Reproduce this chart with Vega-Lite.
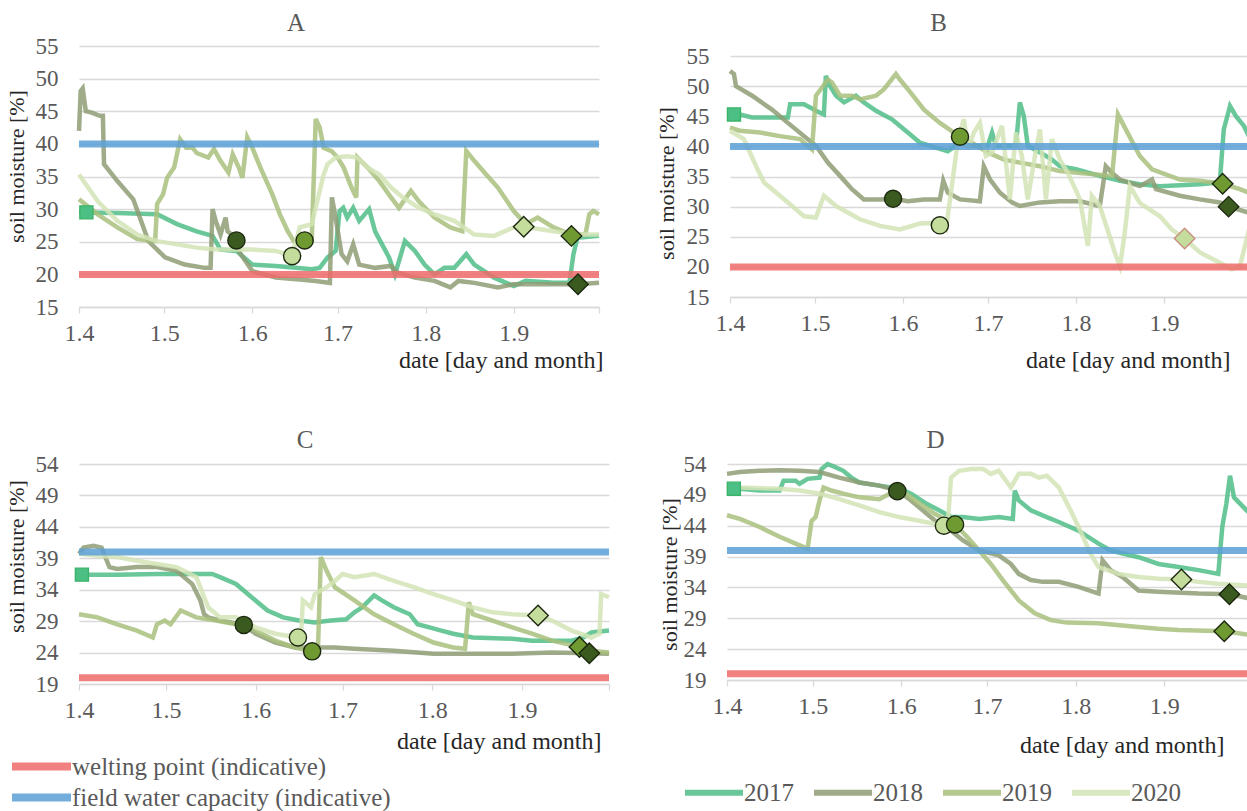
{
"$schema": "https://vega.github.io/schema/vega-lite/v6.json",
"autosize": {"type": "none"},
"padding": {"left": 79, "top": 46, "right": 1168, "bottom": 765},
"background": "white",
"datasets": {
"thresholds": [
{"panel":"A","kind":"welting point (indicative)","value":20},{"panel":"A","kind":"field water capacity (indicative)","value":40},
{"panel":"B","kind":"welting point (indicative)","value":20},{"panel":"B","kind":"field water capacity (indicative)","value":40},
{"panel":"C","kind":"welting point (indicative)","value":20},{"panel":"C","kind":"field water capacity (indicative)","value":40},
{"panel":"D","kind":"welting point (indicative)","value":20},{"panel":"D","kind":"field water capacity (indicative)","value":40}
],
"markers": [
{"panel":"A","year":"2017","kind":"start","day":2.6,"value":29.5},{"panel":"A","year":"2018","kind":"seeding","day":55.4,"value":25.2},{"panel":"A","year":"2020","kind":"seeding","day":75,"value":22.8},{"panel":"A","year":"2019","kind":"seeding","day":79.4,"value":25.2},{"panel":"A","year":"2020","kind":"harvest","day":156.5,"value":27.3},{"panel":"A","year":"2019","kind":"harvest","day":173.3,"value":25.9},{"panel":"A","year":"2018","kind":"harvest","day":175.6,"value":18.5},
{"panel":"B","year":"2017","kind":"start","day":1.4,"value":45.3},{"panel":"B","year":"2018","kind":"seeding","day":57.5,"value":31.3},{"panel":"B","year":"2020","kind":"seeding","day":74,"value":26.9},{"panel":"B","year":"2019","kind":"seeding","day":81.1,"value":41.6},{"panel":"B","year":"2020","kind":"harvest","day":160.3,"value":24.7},{"panel":"B","year":"2019","kind":"harvest","day":173.7,"value":33.8},{"panel":"B","year":"2018","kind":"harvest","day":175.8,"value":30},
{"panel":"C","year":"2017","kind":"start","day":1,"value":36.4},{"panel":"C","year":"2018","kind":"seeding","day":56.9,"value":28.4},{"panel":"C","year":"2020","kind":"seeding","day":75.6,"value":26.4},{"panel":"C","year":"2019","kind":"seeding","day":80.5,"value":24.2},{"panel":"C","year":"2020","kind":"harvest","day":158.5,"value":29.9},{"panel":"C","year":"2019","kind":"harvest","day":172.8,"value":24.9},{"panel":"C","year":"2018","kind":"harvest","day":176.2,"value":23.9},
{"panel":"D","year":"2017","kind":"start","day":2.4,"value":50},{"panel":"D","year":"2018","kind":"seeding","day":59.6,"value":49.6},{"panel":"D","year":"2020","kind":"seeding","day":75.9,"value":44},{"panel":"D","year":"2019","kind":"seeding","day":79.8,"value":44.2},{"panel":"D","year":"2020","kind":"harvest","day":159,"value":35.3},{"panel":"D","year":"2019","kind":"harvest","day":174,"value":26.9},{"panel":"D","year":"2018","kind":"harvest","day":175.8,"value":32.9}
],
"lines": [
{"panel":"A","year":"2017","day":0,"value":29.5},{"panel":"A","year":"2017","day":13.5,"value":29.4},{"panel":"A","year":"2017","day":27.5,"value":29.2},{"panel":"A","year":"2017","day":34.5,"value":27.7},{"panel":"A","year":"2017","day":41.4,"value":26.6},{"panel":"A","year":"2017","day":47,"value":25.9},{"panel":"A","year":"2017","day":49.8,"value":23.8},{"panel":"A","year":"2017","day":55.4,"value":23.6},{"panel":"A","year":"2017","day":61,"value":21.5},{"panel":"A","year":"2017","day":69.3,"value":21.3},{"panel":"A","year":"2017","day":76.3,"value":21},{"panel":"A","year":"2017","day":81.9,"value":20.8},{"panel":"A","year":"2017","day":84.7,"value":21},{"panel":"A","year":"2017","day":87.5,"value":22.6},{"panel":"A","year":"2017","day":90.3,"value":23.6},{"panel":"A","year":"2017","day":91.7,"value":29.7},{"panel":"A","year":"2017","day":93,"value":30.2},{"panel":"A","year":"2017","day":94.4,"value":28.7},{"panel":"A","year":"2017","day":96.5,"value":30.2},{"panel":"A","year":"2017","day":98.6,"value":28.2},{"panel":"A","year":"2017","day":102.1,"value":30},{"panel":"A","year":"2017","day":104.2,"value":26.6},{"panel":"A","year":"2017","day":109.1,"value":22.6},{"panel":"A","year":"2017","day":111.2,"value":20},{"panel":"A","year":"2017","day":114.7,"value":25.1},{"panel":"A","year":"2017","day":118.2,"value":23.6},{"panel":"A","year":"2017","day":121.6,"value":21.5},{"panel":"A","year":"2017","day":125.1,"value":20},{"panel":"A","year":"2017","day":128.6,"value":21},{"panel":"A","year":"2017","day":132.1,"value":21},{"panel":"A","year":"2017","day":136.3,"value":23.1},{"panel":"A","year":"2017","day":139.1,"value":21.5},{"panel":"A","year":"2017","day":146.1,"value":19.5},{"panel":"A","year":"2017","day":153,"value":18.2},{"panel":"A","year":"2017","day":157.2,"value":19},{"panel":"A","year":"2017","day":167,"value":18.7},{"panel":"A","year":"2017","day":172.6,"value":18.7},{"panel":"A","year":"2017","day":174,"value":23.1},{"panel":"A","year":"2017","day":175.4,"value":25.6},{"panel":"A","year":"2017","day":183,"value":25.9},
{"panel":"A","year":"2018","day":0,"value":42},{"panel":"A","year":"2018","day":0.6,"value":48.1},{"panel":"A","year":"2018","day":1.3,"value":48.5},{"panel":"A","year":"2018","day":2.4,"value":45},{"panel":"A","year":"2018","day":4.5,"value":44.8},{"panel":"A","year":"2018","day":7.3,"value":44.3},{"panel":"A","year":"2018","day":8.4,"value":44.3},{"panel":"A","year":"2018","day":8.8,"value":36.9},{"panel":"A","year":"2018","day":13.5,"value":34.3},{"panel":"A","year":"2018","day":19.1,"value":31.5},{"panel":"A","year":"2018","day":24.4,"value":25.1},{"panel":"A","year":"2018","day":30.3,"value":22.6},{"panel":"A","year":"2018","day":37.2,"value":21.5},{"panel":"A","year":"2018","day":44.2,"value":21},{"panel":"A","year":"2018","day":46.3,"value":21},{"panel":"A","year":"2018","day":47,"value":30},{"panel":"A","year":"2018","day":48.1,"value":28.2},{"panel":"A","year":"2018","day":49.8,"value":26.1},{"panel":"A","year":"2018","day":51.6,"value":28.7},{"panel":"A","year":"2018","day":52.3,"value":26.6},{"panel":"A","year":"2018","day":53.7,"value":26.1},{"panel":"A","year":"2018","day":56.9,"value":23.1},{"panel":"A","year":"2018","day":61,"value":20.5},{"panel":"A","year":"2018","day":69.3,"value":19.5},{"panel":"A","year":"2018","day":77.7,"value":19.2},{"panel":"A","year":"2018","day":83.3,"value":19},{"panel":"A","year":"2018","day":88.3,"value":18.7},{"panel":"A","year":"2018","day":89,"value":31.8},{"panel":"A","year":"2018","day":90.3,"value":28.7},{"panel":"A","year":"2018","day":92.4,"value":23.1},{"panel":"A","year":"2018","day":94.4,"value":22},{"panel":"A","year":"2018","day":96.5,"value":24.6},{"panel":"A","year":"2018","day":98.6,"value":21.5},{"panel":"A","year":"2018","day":104.2,"value":21},{"panel":"A","year":"2018","day":109.8,"value":21.3},{"panel":"A","year":"2018","day":111.9,"value":20.3},{"panel":"A","year":"2018","day":118.2,"value":19.5},{"panel":"A","year":"2018","day":125.1,"value":19},{"panel":"A","year":"2018","day":130.7,"value":18},{"panel":"A","year":"2018","day":133.5,"value":19},{"panel":"A","year":"2018","day":139.1,"value":18.7},{"panel":"A","year":"2018","day":147.4,"value":18},{"panel":"A","year":"2018","day":153,"value":18.5},{"panel":"A","year":"2018","day":167,"value":18.5},{"panel":"A","year":"2018","day":175.6,"value":18.5},{"panel":"A","year":"2018","day":183,"value":18.7},
{"panel":"A","year":"2019","day":0,"value":31.5},{"panel":"A","year":"2019","day":6.6,"value":29.2},{"panel":"A","year":"2019","day":13.5,"value":27.2},{"panel":"A","year":"2019","day":20.5,"value":25.4},{"panel":"A","year":"2019","day":26.8,"value":25.1},{"panel":"A","year":"2019","day":27.5,"value":30.8},{"panel":"A","year":"2019","day":29.6,"value":32.3},{"panel":"A","year":"2019","day":31,"value":34.8},{"panel":"A","year":"2019","day":33.5,"value":36.4},{"panel":"A","year":"2019","day":35.6,"value":40.7},{"panel":"A","year":"2019","day":37.7,"value":39.4},{"panel":"A","year":"2019","day":40,"value":39.4},{"panel":"A","year":"2019","day":41.4,"value":38.6},{"panel":"A","year":"2019","day":45.5,"value":37.9},{"panel":"A","year":"2019","day":47.5,"value":39.2},{"panel":"A","year":"2019","day":49.8,"value":37.4},{"panel":"A","year":"2019","day":52.6,"value":35.6},{"panel":"A","year":"2019","day":54.1,"value":38.4},{"panel":"A","year":"2019","day":56.2,"value":36.4},{"panel":"A","year":"2019","day":57.5,"value":34.8},{"panel":"A","year":"2019","day":59.2,"value":41},{"panel":"A","year":"2019","day":61,"value":39.4},{"panel":"A","year":"2019","day":63.8,"value":36.4},{"panel":"A","year":"2019","day":68,"value":32.3},{"panel":"A","year":"2019","day":70.7,"value":29.2},{"panel":"A","year":"2019","day":73.5,"value":26.6},{"panel":"A","year":"2019","day":75.6,"value":25.1},{"panel":"A","year":"2019","day":79.4,"value":25.2},{"panel":"A","year":"2019","day":81.9,"value":25.2},{"panel":"A","year":"2019","day":83.3,"value":43.8},{"panel":"A","year":"2019","day":84.7,"value":42.5},{"panel":"A","year":"2019","day":86.1,"value":39.4},{"panel":"A","year":"2019","day":88.9,"value":38.9},{"panel":"A","year":"2019","day":91,"value":37.9},{"panel":"A","year":"2019","day":93.1,"value":36.4},{"panel":"A","year":"2019","day":95.9,"value":33.3},{"panel":"A","year":"2019","day":97.6,"value":31.8},{"panel":"A","year":"2019","day":98,"value":37.9},{"panel":"A","year":"2019","day":101.5,"value":36.4},{"panel":"A","year":"2019","day":105.7,"value":34.3},{"panel":"A","year":"2019","day":109.8,"value":31.8},{"panel":"A","year":"2019","day":112.6,"value":30.2},{"panel":"A","year":"2019","day":116.8,"value":32.8},{"panel":"A","year":"2019","day":119.6,"value":31.2},{"panel":"A","year":"2019","day":125.1,"value":28.7},{"panel":"A","year":"2019","day":130.7,"value":27.2},{"panel":"A","year":"2019","day":134.9,"value":26.6},{"panel":"A","year":"2019","day":136.3,"value":38.9},{"panel":"A","year":"2019","day":139.1,"value":37.4},{"panel":"A","year":"2019","day":143.3,"value":35.3},{"panel":"A","year":"2019","day":147.4,"value":33.3},{"panel":"A","year":"2019","day":153,"value":29.7},{"panel":"A","year":"2019","day":157.2,"value":27.7},{"panel":"A","year":"2019","day":161.4,"value":28.7},{"panel":"A","year":"2019","day":167,"value":27.2},{"panel":"A","year":"2019","day":173.3,"value":26.1},{"panel":"A","year":"2019","day":178.2,"value":26.1},{"panel":"A","year":"2019","day":179.6,"value":29.2},{"panel":"A","year":"2019","day":181,"value":29.7},{"panel":"A","year":"2019","day":183,"value":29.2},
{"panel":"A","year":"2020","day":0,"value":35.3},{"panel":"A","year":"2020","day":6.6,"value":31.2},{"panel":"A","year":"2020","day":13.5,"value":28.2},{"panel":"A","year":"2020","day":20.5,"value":26.1},{"panel":"A","year":"2020","day":27.5,"value":25.1},{"panel":"A","year":"2020","day":34.5,"value":24.6},{"panel":"A","year":"2020","day":41.4,"value":24.1},{"panel":"A","year":"2020","day":48.4,"value":23.8},{"panel":"A","year":"2020","day":55.4,"value":23.8},{"panel":"A","year":"2020","day":61,"value":23.8},{"panel":"A","year":"2020","day":69.3,"value":23.6},{"panel":"A","year":"2020","day":75,"value":22.8},{"panel":"A","year":"2020","day":77.7,"value":27.2},{"panel":"A","year":"2020","day":81.9,"value":27.7},{"panel":"A","year":"2020","day":86.1,"value":35.3},{"panel":"A","year":"2020","day":87.5,"value":36.9},{"panel":"A","year":"2020","day":90.3,"value":37.9},{"panel":"A","year":"2020","day":94.4,"value":38.1},{"panel":"A","year":"2020","day":98,"value":37.9},{"panel":"A","year":"2020","day":101.5,"value":36.4},{"panel":"A","year":"2020","day":105.7,"value":35.3},{"panel":"A","year":"2020","day":109.8,"value":33.3},{"panel":"A","year":"2020","day":114,"value":31.8},{"panel":"A","year":"2020","day":119.6,"value":30.2},{"panel":"A","year":"2020","day":125.1,"value":29.2},{"panel":"A","year":"2020","day":132.1,"value":28.2},{"panel":"A","year":"2020","day":139.1,"value":26.1},{"panel":"A","year":"2020","day":146.1,"value":25.9},{"panel":"A","year":"2020","day":153,"value":27.2},{"panel":"A","year":"2020","day":156.5,"value":27.3},{"panel":"A","year":"2020","day":167,"value":26.6},{"panel":"A","year":"2020","day":176,"value":26.1},{"panel":"A","year":"2020","day":183,"value":26.1},
{"panel":"B","year":"2017","day":0,"value":45.6},{"panel":"B","year":"2017","day":3.5,"value":45.3},{"panel":"B","year":"2017","day":7.8,"value":44.8},{"panel":"B","year":"2017","day":20.4,"value":44.8},{"panel":"B","year":"2017","day":21.2,"value":47},{"panel":"B","year":"2017","day":26.1,"value":47},{"panel":"B","year":"2017","day":31.7,"value":45.6},{"panel":"B","year":"2017","day":33.1,"value":45.3},{"panel":"B","year":"2017","day":33.8,"value":51.7},{"panel":"B","year":"2017","day":35.3,"value":50},{"panel":"B","year":"2017","day":37.4,"value":48.4},{"panel":"B","year":"2017","day":40.2,"value":47.3},{"panel":"B","year":"2017","day":44.4,"value":48.4},{"panel":"B","year":"2017","day":47.2,"value":47.3},{"panel":"B","year":"2017","day":51.5,"value":45.9},{"panel":"B","year":"2017","day":57.1,"value":44.5},{"panel":"B","year":"2017","day":62.7,"value":42.3},{"panel":"B","year":"2017","day":67,"value":40.6},{"panel":"B","year":"2017","day":72.6,"value":39.8},{"panel":"B","year":"2017","day":76.8,"value":39.2},{"panel":"B","year":"2017","day":81.1,"value":40.6},{"panel":"B","year":"2017","day":85.3,"value":40.1},{"panel":"B","year":"2017","day":90.9,"value":40.1},{"panel":"B","year":"2017","day":92.4,"value":42.3},{"panel":"B","year":"2017","day":93.8,"value":40.1},{"panel":"B","year":"2017","day":100.8,"value":40.1},{"panel":"B","year":"2017","day":102.2,"value":47.3},{"panel":"B","year":"2017","day":103.6,"value":45},{"panel":"B","year":"2017","day":105,"value":40.1},{"panel":"B","year":"2017","day":109.3,"value":39},{"panel":"B","year":"2017","day":113.5,"value":37.8},{"panel":"B","year":"2017","day":116.3,"value":36.7},{"panel":"B","year":"2017","day":122,"value":36.2},{"panel":"B","year":"2017","day":130.4,"value":35.1},{"panel":"B","year":"2017","day":137.5,"value":34.3},{"panel":"B","year":"2017","day":144.5,"value":33.7},{"panel":"B","year":"2017","day":151.6,"value":33.4},{"panel":"B","year":"2017","day":165.7,"value":33.7},{"panel":"B","year":"2017","day":172.7,"value":34},{"panel":"B","year":"2017","day":174.1,"value":42.8},{"panel":"B","year":"2017","day":176.3,"value":46.7},{"panel":"B","year":"2017","day":178.4,"value":45},{"panel":"B","year":"2017","day":181.2,"value":43.4},{"panel":"B","year":"2017","day":183,"value":41.7},
{"panel":"B","year":"2018","day":0,"value":52.5},{"panel":"B","year":"2018","day":1.4,"value":52},{"panel":"B","year":"2018","day":2.1,"value":50},{"panel":"B","year":"2018","day":7.8,"value":48.4},{"panel":"B","year":"2018","day":14.8,"value":46.1},{"panel":"B","year":"2018","day":20.4,"value":43.9},{"panel":"B","year":"2018","day":26.1,"value":41.7},{"panel":"B","year":"2018","day":30.3,"value":40.1},{"panel":"B","year":"2018","day":34.5,"value":37.3},{"panel":"B","year":"2018","day":38.8,"value":35.1},{"panel":"B","year":"2018","day":43,"value":32.9},{"panel":"B","year":"2018","day":47.2,"value":31.2},{"panel":"B","year":"2018","day":52.9,"value":31.2},{"panel":"B","year":"2018","day":57.8,"value":31.3},{"panel":"B","year":"2018","day":62.7,"value":30.9},{"panel":"B","year":"2018","day":68.4,"value":31.2},{"panel":"B","year":"2018","day":74,"value":31.2},{"panel":"B","year":"2018","day":75.2,"value":34.3},{"panel":"B","year":"2018","day":76.8,"value":32.3},{"panel":"B","year":"2018","day":81.1,"value":31.2},{"panel":"B","year":"2018","day":88.1,"value":30.9},{"panel":"B","year":"2018","day":89.5,"value":36.7},{"panel":"B","year":"2018","day":91.7,"value":34.5},{"panel":"B","year":"2018","day":95.2,"value":32.3},{"panel":"B","year":"2018","day":99.4,"value":30.7},{"panel":"B","year":"2018","day":102.2,"value":30.1},{"panel":"B","year":"2018","day":109.3,"value":30.7},{"panel":"B","year":"2018","day":116.3,"value":30.9},{"panel":"B","year":"2018","day":123.4,"value":30.9},{"panel":"B","year":"2018","day":130.4,"value":30.1},{"panel":"B","year":"2018","day":132.5,"value":36.7},{"panel":"B","year":"2018","day":134.7,"value":35.6},{"panel":"B","year":"2018","day":137.5,"value":34.5},{"panel":"B","year":"2018","day":144.5,"value":33.4},{"panel":"B","year":"2018","day":148.8,"value":34.5},{"panel":"B","year":"2018","day":150.2,"value":32.9},{"panel":"B","year":"2018","day":158.6,"value":31.8},{"panel":"B","year":"2018","day":165.7,"value":31.2},{"panel":"B","year":"2018","day":172.7,"value":30.7},{"panel":"B","year":"2018","day":175.8,"value":30},{"panel":"B","year":"2018","day":183,"value":29},
{"panel":"B","year":"2019","day":0,"value":43.1},{"panel":"B","year":"2019","day":3.5,"value":42.6},{"panel":"B","year":"2019","day":10.6,"value":42.3},{"panel":"B","year":"2019","day":17.6,"value":41.7},{"panel":"B","year":"2019","day":24.7,"value":41.2},{"panel":"B","year":"2019","day":28.9,"value":39.5},{"panel":"B","year":"2019","day":30.3,"value":48.4},{"panel":"B","year":"2019","day":34.5,"value":51.1},{"panel":"B","year":"2019","day":36,"value":50.6},{"panel":"B","year":"2019","day":38.8,"value":48.4},{"panel":"B","year":"2019","day":43,"value":48.4},{"panel":"B","year":"2019","day":45.8,"value":47.8},{"panel":"B","year":"2019","day":51.5,"value":48.4},{"panel":"B","year":"2019","day":54.3,"value":49.5},{"panel":"B","year":"2019","day":58.5,"value":52},{"panel":"B","year":"2019","day":59.9,"value":51.1},{"panel":"B","year":"2019","day":62.7,"value":49.5},{"panel":"B","year":"2019","day":68.4,"value":46.1},{"panel":"B","year":"2019","day":74,"value":43.9},{"panel":"B","year":"2019","day":81.1,"value":41.6},{"panel":"B","year":"2019","day":85.3,"value":40.6},{"panel":"B","year":"2019","day":90.9,"value":39},{"panel":"B","year":"2019","day":96.6,"value":37.8},{"panel":"B","year":"2019","day":102.2,"value":37.3},{"panel":"B","year":"2019","day":109.3,"value":36.7},{"panel":"B","year":"2019","day":116.3,"value":35.9},{"panel":"B","year":"2019","day":123.4,"value":35.6},{"panel":"B","year":"2019","day":134.7,"value":35.1},{"panel":"B","year":"2019","day":136.8,"value":45.3},{"panel":"B","year":"2019","day":138.9,"value":43.4},{"panel":"B","year":"2019","day":144.5,"value":38.4},{"panel":"B","year":"2019","day":148.8,"value":36.2},{"panel":"B","year":"2019","day":158.6,"value":34.5},{"panel":"B","year":"2019","day":165.7,"value":34.3},{"panel":"B","year":"2019","day":173.7,"value":33.8},{"panel":"B","year":"2019","day":179.8,"value":32.9},{"panel":"B","year":"2019","day":183,"value":32.3},
{"panel":"B","year":"2020","day":0,"value":42.6},{"panel":"B","year":"2020","day":4.9,"value":41.2},{"panel":"B","year":"2020","day":9.2,"value":36.7},{"panel":"B","year":"2020","day":12,"value":34},{"panel":"B","year":"2020","day":17.6,"value":31.8},{"panel":"B","year":"2020","day":21.9,"value":30.1},{"panel":"B","year":"2020","day":26.1,"value":28.4},{"panel":"B","year":"2020","day":30.3,"value":28.2},{"panel":"B","year":"2020","day":33.1,"value":31.8},{"panel":"B","year":"2020","day":37.4,"value":30.1},{"panel":"B","year":"2020","day":45.8,"value":27.9},{"panel":"B","year":"2020","day":52.9,"value":26.8},{"panel":"B","year":"2020","day":59.9,"value":26.2},{"panel":"B","year":"2020","day":67,"value":27.2},{"panel":"B","year":"2020","day":72.6,"value":27.3},{"panel":"B","year":"2020","day":74,"value":26.9},{"panel":"B","year":"2020","day":76.1,"value":26.2},{"panel":"B","year":"2020","day":77.6,"value":31.2},{"panel":"B","year":"2020","day":80.4,"value":41.2},{"panel":"B","year":"2020","day":82.5,"value":44.5},{"panel":"B","year":"2020","day":83.9,"value":39.5},{"panel":"B","year":"2020","day":86,"value":42.3},{"panel":"B","year":"2020","day":88.1,"value":43.9},{"panel":"B","year":"2020","day":90.2,"value":38.4},{"panel":"B","year":"2020","day":92.4,"value":39},{"panel":"B","year":"2020","day":95.9,"value":43.4},{"panel":"B","year":"2020","day":98.7,"value":31.2},{"panel":"B","year":"2020","day":100.8,"value":42.3},{"panel":"B","year":"2020","day":102.9,"value":38.4},{"panel":"B","year":"2020","day":105,"value":31.2},{"panel":"B","year":"2020","day":107.9,"value":39.5},{"panel":"B","year":"2020","day":109.3,"value":42.8},{"panel":"B","year":"2020","day":111.4,"value":31.2},{"panel":"B","year":"2020","day":113.5,"value":41.2},{"panel":"B","year":"2020","day":116.3,"value":37.8},{"panel":"B","year":"2020","day":119.1,"value":35.6},{"panel":"B","year":"2020","day":123.4,"value":31.2},{"panel":"B","year":"2020","day":126.2,"value":23.5},{"panel":"B","year":"2020","day":127.6,"value":31.8},{"panel":"B","year":"2020","day":130.4,"value":30.1},{"panel":"B","year":"2020","day":136.1,"value":21.8},{"panel":"B","year":"2020","day":137.5,"value":20.1},{"panel":"B","year":"2020","day":139.2,"value":25.7},{"panel":"B","year":"2020","day":141,"value":33.4},{"panel":"B","year":"2020","day":144.5,"value":30.6},{"panel":"B","year":"2020","day":151.6,"value":28.4},{"panel":"B","year":"2020","day":155.8,"value":26.2},{"panel":"B","year":"2020","day":160.3,"value":24.7},{"panel":"B","year":"2020","day":165.7,"value":22.4},{"panel":"B","year":"2020","day":172.7,"value":20.7},{"panel":"B","year":"2020","day":176.9,"value":19.6},{"panel":"B","year":"2020","day":179.8,"value":20.1},{"panel":"B","year":"2020","day":183,"value":26.2},
{"panel":"C","year":"2017","day":0,"value":36.4},{"panel":"C","year":"2017","day":13.2,"value":36.4},{"panel":"C","year":"2017","day":26.9,"value":36.5},{"panel":"C","year":"2017","day":46,"value":36.5},{"panel":"C","year":"2017","day":48.7,"value":36},{"panel":"C","year":"2017","day":54.2,"value":34.9},{"panel":"C","year":"2017","day":59.6,"value":32.8},{"panel":"C","year":"2017","day":65.1,"value":30.7},{"panel":"C","year":"2017","day":70.5,"value":29.6},{"panel":"C","year":"2017","day":76,"value":29.1},{"panel":"C","year":"2017","day":81.4,"value":28.8},{"panel":"C","year":"2017","day":86.9,"value":29.1},{"panel":"C","year":"2017","day":92.3,"value":29.3},{"panel":"C","year":"2017","day":95.1,"value":30.4},{"panel":"C","year":"2017","day":97.8,"value":31.2},{"panel":"C","year":"2017","day":101.9,"value":33.1},{"panel":"C","year":"2017","day":104.6,"value":32.3},{"panel":"C","year":"2017","day":108.7,"value":31.2},{"panel":"C","year":"2017","day":114.2,"value":30.1},{"panel":"C","year":"2017","day":116.9,"value":28.5},{"panel":"C","year":"2017","day":121,"value":28},{"panel":"C","year":"2017","day":125.1,"value":27.5},{"panel":"C","year":"2017","day":129.2,"value":27},{"panel":"C","year":"2017","day":136,"value":26.4},{"panel":"C","year":"2017","day":149.6,"value":26.2},{"panel":"C","year":"2017","day":156.4,"value":25.9},{"panel":"C","year":"2017","day":170.1,"value":25.9},{"panel":"C","year":"2017","day":174.2,"value":26.4},{"panel":"C","year":"2017","day":176.9,"value":27.2},{"panel":"C","year":"2017","day":183,"value":27.5},
{"panel":"C","year":"2018","day":0,"value":39.7},{"panel":"C","year":"2018","day":1.6,"value":40.7},{"panel":"C","year":"2018","day":5,"value":41},{"panel":"C","year":"2018","day":7.8,"value":40.7},{"panel":"C","year":"2018","day":10.5,"value":37.6},{"panel":"C","year":"2018","day":13.2,"value":37.3},{"panel":"C","year":"2018","day":20,"value":37.6},{"panel":"C","year":"2018","day":26.9,"value":37.6},{"panel":"C","year":"2018","day":33.7,"value":37},{"panel":"C","year":"2018","day":39.1,"value":34.9},{"panel":"C","year":"2018","day":41.9,"value":32.3},{"panel":"C","year":"2018","day":43.2,"value":30.1},{"panel":"C","year":"2018","day":44.6,"value":29.6},{"panel":"C","year":"2018","day":48.7,"value":29.1},{"panel":"C","year":"2018","day":56.9,"value":28.4},{"panel":"C","year":"2018","day":61,"value":27},{"panel":"C","year":"2018","day":67.8,"value":25.6},{"panel":"C","year":"2018","day":74.6,"value":24.8},{"panel":"C","year":"2018","day":88.3,"value":24.8},{"panel":"C","year":"2018","day":95.1,"value":24.6},{"panel":"C","year":"2018","day":108.7,"value":24.3},{"panel":"C","year":"2018","day":122.4,"value":23.8},{"panel":"C","year":"2018","day":149.6,"value":23.8},{"panel":"C","year":"2018","day":163.3,"value":24},{"panel":"C","year":"2018","day":176.2,"value":23.9},{"panel":"C","year":"2018","day":183,"value":23.8},
{"panel":"C","year":"2019","day":0,"value":30.1},{"panel":"C","year":"2019","day":6.4,"value":29.6},{"panel":"C","year":"2019","day":13.2,"value":28.5},{"panel":"C","year":"2019","day":20,"value":27.5},{"panel":"C","year":"2019","day":25.5,"value":26.4},{"panel":"C","year":"2019","day":26.9,"value":28.5},{"panel":"C","year":"2019","day":29.6,"value":29.1},{"panel":"C","year":"2019","day":31.6,"value":28.5},{"panel":"C","year":"2019","day":35.1,"value":30.7},{"panel":"C","year":"2019","day":40.5,"value":29.6},{"panel":"C","year":"2019","day":47.3,"value":29.1},{"panel":"C","year":"2019","day":54.2,"value":28.5},{"panel":"C","year":"2019","day":59.6,"value":27.8},{"panel":"C","year":"2019","day":67.8,"value":25.9},{"panel":"C","year":"2019","day":74.6,"value":24.8},{"panel":"C","year":"2019","day":80.5,"value":24.2},{"panel":"C","year":"2019","day":82.5,"value":24.3},{"panel":"C","year":"2019","day":83.5,"value":39.2},{"panel":"C","year":"2019","day":85.5,"value":37},{"panel":"C","year":"2019","day":88.3,"value":34.4},{"panel":"C","year":"2019","day":95.1,"value":32.3},{"panel":"C","year":"2019","day":101.9,"value":30.1},{"panel":"C","year":"2019","day":108.7,"value":28.5},{"panel":"C","year":"2019","day":115.5,"value":27},{"panel":"C","year":"2019","day":122.4,"value":25.6},{"panel":"C","year":"2019","day":129.2,"value":24.8},{"panel":"C","year":"2019","day":133.3,"value":24.6},{"panel":"C","year":"2019","day":134.6,"value":32},{"panel":"C","year":"2019","day":136,"value":30.1},{"panel":"C","year":"2019","day":142.8,"value":29.1},{"panel":"C","year":"2019","day":149.6,"value":28},{"panel":"C","year":"2019","day":156.4,"value":27},{"panel":"C","year":"2019","day":163.3,"value":25.9},{"panel":"C","year":"2019","day":172.8,"value":24.9},{"panel":"C","year":"2019","day":176.9,"value":24.3},{"panel":"C","year":"2019","day":183,"value":24},
{"panel":"C","year":"2020","day":0,"value":39.7},{"panel":"C","year":"2020","day":6.4,"value":39.4},{"panel":"C","year":"2020","day":13.2,"value":39.2},{"panel":"C","year":"2020","day":20,"value":38.6},{"panel":"C","year":"2020","day":26.9,"value":38.1},{"panel":"C","year":"2020","day":33.7,"value":37.6},{"panel":"C","year":"2020","day":40.5,"value":36},{"panel":"C","year":"2020","day":44.6,"value":31.2},{"panel":"C","year":"2020","day":48.7,"value":29.6},{"panel":"C","year":"2020","day":54.2,"value":29.6},{"panel":"C","year":"2020","day":61,"value":28},{"panel":"C","year":"2020","day":67.8,"value":27},{"panel":"C","year":"2020","day":75.6,"value":26.4},{"panel":"C","year":"2020","day":76.7,"value":27},{"panel":"C","year":"2020","day":77.3,"value":32.3},{"panel":"C","year":"2020","day":80.1,"value":31.2},{"panel":"C","year":"2020","day":81.4,"value":33.3},{"panel":"C","year":"2020","day":85.5,"value":34.4},{"panel":"C","year":"2020","day":88.3,"value":35.4},{"panel":"C","year":"2020","day":91,"value":36.5},{"panel":"C","year":"2020","day":95.1,"value":36},{"panel":"C","year":"2020","day":101.9,"value":36.5},{"panel":"C","year":"2020","day":108.7,"value":35.4},{"panel":"C","year":"2020","day":115.5,"value":34.4},{"panel":"C","year":"2020","day":122.4,"value":33.3},{"panel":"C","year":"2020","day":129.2,"value":32.3},{"panel":"C","year":"2020","day":136,"value":31.2},{"panel":"C","year":"2020","day":142.8,"value":30.4},{"panel":"C","year":"2020","day":149.6,"value":30.1},{"panel":"C","year":"2020","day":158.5,"value":29.9},{"panel":"C","year":"2020","day":163.3,"value":29.1},{"panel":"C","year":"2020","day":170.1,"value":27.5},{"panel":"C","year":"2020","day":176.9,"value":26.4},{"panel":"C","year":"2020","day":179.7,"value":27},{"panel":"C","year":"2020","day":180.3,"value":33.3},{"panel":"C","year":"2020","day":183,"value":32.8},
{"panel":"D","year":"2017","day":0,"value":50},{"panel":"D","year":"2017","day":4.5,"value":50},{"panel":"D","year":"2017","day":11.4,"value":49.7},{"panel":"D","year":"2017","day":18.4,"value":49.7},{"panel":"D","year":"2017","day":19.8,"value":51.3},{"panel":"D","year":"2017","day":24,"value":51.3},{"panel":"D","year":"2017","day":25.4,"value":50.8},{"panel":"D","year":"2017","day":28.2,"value":51.6},{"panel":"D","year":"2017","day":32.4,"value":51.8},{"panel":"D","year":"2017","day":33.1,"value":53.2},{"panel":"D","year":"2017","day":35.2,"value":54},{"panel":"D","year":"2017","day":37.9,"value":53.5},{"panel":"D","year":"2017","day":40.7,"value":52.9},{"panel":"D","year":"2017","day":43.5,"value":51.8},{"panel":"D","year":"2017","day":46.3,"value":51},{"panel":"D","year":"2017","day":53.3,"value":50.5},{"panel":"D","year":"2017","day":60.3,"value":50},{"panel":"D","year":"2017","day":64.4,"value":49.2},{"panel":"D","year":"2017","day":70,"value":47.5},{"panel":"D","year":"2017","day":74.2,"value":46.5},{"panel":"D","year":"2017","day":78.4,"value":45.4},{"panel":"D","year":"2017","day":82.6,"value":45.4},{"panel":"D","year":"2017","day":88.2,"value":45.1},{"panel":"D","year":"2017","day":95.1,"value":45.4},{"panel":"D","year":"2017","day":100,"value":45.1},{"panel":"D","year":"2017","day":100.7,"value":49.7},{"panel":"D","year":"2017","day":102.1,"value":48.1},{"panel":"D","year":"2017","day":106.3,"value":46.5},{"panel":"D","year":"2017","day":111.9,"value":45.4},{"panel":"D","year":"2017","day":116.1,"value":44.6},{"panel":"D","year":"2017","day":123,"value":43.2},{"panel":"D","year":"2017","day":130,"value":41.1},{"panel":"D","year":"2017","day":134.2,"value":40},{"panel":"D","year":"2017","day":138.4,"value":39.5},{"panel":"D","year":"2017","day":144,"value":38.9},{"panel":"D","year":"2017","day":151,"value":37.8},{"panel":"D","year":"2017","day":158,"value":37.3},{"panel":"D","year":"2017","day":165,"value":36.8},{"panel":"D","year":"2017","day":171.9,"value":36.2},{"panel":"D","year":"2017","day":173.3,"value":43.8},{"panel":"D","year":"2017","day":174.7,"value":47.5},{"panel":"D","year":"2017","day":176,"value":52.1},{"panel":"D","year":"2017","day":177.4,"value":48.6},{"panel":"D","year":"2017","day":183,"value":45.9},
{"panel":"D","year":"2018","day":0,"value":52.4},{"panel":"D","year":"2018","day":4.5,"value":52.7},{"panel":"D","year":"2018","day":11.4,"value":52.9},{"panel":"D","year":"2018","day":18.4,"value":53},{"panel":"D","year":"2018","day":25.4,"value":52.9},{"panel":"D","year":"2018","day":32.4,"value":52.7},{"panel":"D","year":"2018","day":39.3,"value":51.8},{"panel":"D","year":"2018","day":46.3,"value":51},{"panel":"D","year":"2018","day":53.3,"value":50.5},{"panel":"D","year":"2018","day":59.6,"value":49.7},{"panel":"D","year":"2018","day":64.4,"value":48.1},{"panel":"D","year":"2018","day":70,"value":45.9},{"panel":"D","year":"2018","day":74.2,"value":44.3},{"panel":"D","year":"2018","day":78.4,"value":43.2},{"panel":"D","year":"2018","day":82.6,"value":41.6},{"panel":"D","year":"2018","day":88.2,"value":40},{"panel":"D","year":"2018","day":95.1,"value":39.2},{"panel":"D","year":"2018","day":99.3,"value":37.8},{"panel":"D","year":"2018","day":102.1,"value":36.2},{"panel":"D","year":"2018","day":106.3,"value":35.2},{"panel":"D","year":"2018","day":110.5,"value":34.9},{"panel":"D","year":"2018","day":116.1,"value":34.9},{"panel":"D","year":"2018","day":123,"value":34.1},{"panel":"D","year":"2018","day":130,"value":33},{"panel":"D","year":"2018","day":131.4,"value":38.4},{"panel":"D","year":"2018","day":134.2,"value":36.8},{"panel":"D","year":"2018","day":138.4,"value":35.7},{"panel":"D","year":"2018","day":144,"value":33.5},{"panel":"D","year":"2018","day":151,"value":33.3},{"panel":"D","year":"2018","day":165,"value":33},{"panel":"D","year":"2018","day":175.8,"value":32.9},{"panel":"D","year":"2018","day":183,"value":32.2},
{"panel":"D","year":"2019","day":0,"value":45.7},{"panel":"D","year":"2019","day":4.5,"value":45.1},{"panel":"D","year":"2019","day":11.4,"value":43.8},{"panel":"D","year":"2019","day":18.4,"value":42.2},{"panel":"D","year":"2019","day":24,"value":41.1},{"panel":"D","year":"2019","day":28.2,"value":40.3},{"panel":"D","year":"2019","day":29.6,"value":44.8},{"panel":"D","year":"2019","day":31,"value":45.4},{"panel":"D","year":"2019","day":32.4,"value":48.1},{"panel":"D","year":"2019","day":33.8,"value":50.2},{"panel":"D","year":"2019","day":36.5,"value":49.7},{"panel":"D","year":"2019","day":40.7,"value":49.2},{"panel":"D","year":"2019","day":46.3,"value":48.6},{"panel":"D","year":"2019","day":53.3,"value":48.3},{"panel":"D","year":"2019","day":60.3,"value":50},{"panel":"D","year":"2019","day":65.8,"value":48.1},{"panel":"D","year":"2019","day":72.8,"value":45.9},{"panel":"D","year":"2019","day":79.8,"value":44.2},{"panel":"D","year":"2019","day":84,"value":42.2},{"panel":"D","year":"2019","day":88.2,"value":40},{"panel":"D","year":"2019","day":92.3,"value":37.8},{"panel":"D","year":"2019","day":96.5,"value":35.2},{"panel":"D","year":"2019","day":102.1,"value":31.9},{"panel":"D","year":"2019","day":107.7,"value":29.8},{"panel":"D","year":"2019","day":113.3,"value":28.7},{"panel":"D","year":"2019","day":118.9,"value":28.3},{"panel":"D","year":"2019","day":130,"value":28.2},{"panel":"D","year":"2019","day":144,"value":27.6},{"panel":"D","year":"2019","day":151,"value":27.3},{"panel":"D","year":"2019","day":158,"value":27.1},{"panel":"D","year":"2019","day":174,"value":26.9},{"panel":"D","year":"2019","day":183,"value":26.3},
{"panel":"D","year":"2020","day":0,"value":50.5},{"panel":"D","year":"2020","day":4.5,"value":50.2},{"panel":"D","year":"2020","day":18.4,"value":50},{"panel":"D","year":"2020","day":25.4,"value":49.7},{"panel":"D","year":"2020","day":32.4,"value":49.2},{"panel":"D","year":"2020","day":39.3,"value":48.3},{"panel":"D","year":"2020","day":46.3,"value":47.3},{"panel":"D","year":"2020","day":53.3,"value":46.2},{"panel":"D","year":"2020","day":60.3,"value":45.4},{"panel":"D","year":"2020","day":67.2,"value":44.8},{"panel":"D","year":"2020","day":75.9,"value":44},{"panel":"D","year":"2020","day":77.3,"value":44.8},{"panel":"D","year":"2020","day":78.4,"value":51.8},{"panel":"D","year":"2020","day":81.2,"value":52.9},{"panel":"D","year":"2020","day":85.4,"value":53.2},{"panel":"D","year":"2020","day":89.6,"value":53.2},{"panel":"D","year":"2020","day":92.3,"value":52.4},{"panel":"D","year":"2020","day":95.1,"value":52.9},{"panel":"D","year":"2020","day":99.3,"value":50.2},{"panel":"D","year":"2020","day":102.1,"value":52.4},{"panel":"D","year":"2020","day":106.3,"value":52.4},{"panel":"D","year":"2020","day":109.1,"value":51.8},{"panel":"D","year":"2020","day":111.9,"value":52.1},{"panel":"D","year":"2020","day":116.1,"value":50.2},{"panel":"D","year":"2020","day":120.2,"value":46.5},{"panel":"D","year":"2020","day":123,"value":43.8},{"panel":"D","year":"2020","day":127.2,"value":39.5},{"panel":"D","year":"2020","day":130,"value":37.3},{"panel":"D","year":"2020","day":137,"value":36.2},{"panel":"D","year":"2020","day":144,"value":35.7},{"panel":"D","year":"2020","day":151,"value":35.4},{"panel":"D","year":"2020","day":159,"value":35.3},{"panel":"D","year":"2020","day":165,"value":34.9},{"panel":"D","year":"2020","day":171.9,"value":34.6},{"panel":"D","year":"2020","day":183,"value":34.3}
]
},
"spacing": 418,
"bounds": "flush",
"resolve": {"scale": {"color": "independent", "stroke": "independent", "fill": "independent", "shape": "independent", "size": "independent"}, "legend": {"color": "independent", "stroke": "independent", "fill": "independent", "shape": "independent", "size": "independent"}},
"vconcat": [
{
"hconcat": [
{
"width": 520, "height": 261,
"title": {"text": "A", "dx": -43, "offset": -1},
"layer": [
{"data": {"name": "lines"}, "transform": [{"filter": "datum.panel == 'A'"}],
 "mark": {"type": "line", "strokeWidth": 4.5, "opacity": 0.85},
 "encoding": {
  "x": {"field": "day", "type": "quantitative", "scale": {"domain": [0, 183], "nice": false, "zero": false},
   "axis": {"title": "date [day and month]", "values": [0, 30, 61, 91, 122, 153, 183], "tickCount": 20, "labelExpr": "datum.value == 0 ? '1.4' : datum.value == 30 ? '1.5' : datum.value == 61 ? '1.6' : datum.value == 91 ? '1.7' : datum.value == 122 ? '1.8' : datum.value == 153 ? '1.9' : ''", "titleX": 524, "titleY": 60}},
  "y": {"field": "value", "type": "quantitative", "scale": {"domain": [15, 55], "nice": false, "zero": false},
   "axis": {"title": "soil moisture [%]", "values": [15, 20, 25, 30, 35, 40, 45, 50, 55], "tickCount": 20, "labelOverlap": false, "titleX": -56, "titleY": 120}},
  "stroke": {"field": "year", "type": "nominal", "scale": {"domain": ["2017", "2018", "2019", "2020"], "range": ["#4fbd87", "#8e9c74", "#a8bf7c", "#d3e4b6"]}, "legend": null}
 }},
{"data": {"name": "thresholds"}, "transform": [{"filter": "datum.panel == 'A'"}],
 "mark": {"type": "rule", "strokeWidth": 7, "opacity": 0.85},
 "encoding": {
  "y": {"field": "value", "type": "quantitative"},
  "color": {"field": "kind", "type": "nominal", "scale": {"domain": ["welting point (indicative)", "field water capacity (indicative)"], "range": ["#ef6b6b", "#5a9fd6"]}, "legend": null}
 }},
{"data": {"name": "markers"}, "transform": [{"filter": "datum.panel == 'A'"}],
 "mark": {"type": "point", "filled": true, "opacity": 1, "strokeWidth": 1.4},
 "encoding": {
  "x": {"field": "day", "type": "quantitative"},
  "y": {"field": "value", "type": "quantitative"},
  "shape": {"field": "kind", "type": "nominal", "scale": {"domain": ["start", "seeding", "harvest"], "range": ["square", "circle", "diamond"]}, "legend": null},
  "size": {"field": "kind", "type": "nominal", "scale": {"domain": ["start", "seeding", "harvest"], "range": [170, 420, 480]}, "legend": null},
  "fill": {"field": "year", "type": "nominal", "scale": {"domain": ["2017", "2018", "2019", "2020"], "range": ["#4cc084", "#3b5a1f", "#6f9a32", "#c4dc9c"]}, "legend": null},
  "stroke": {"condition": [{"test": "datum.kind == 'start'", "value": "#3cb36a"}, {"test": "datum.panel == 'B' && datum.year == '2020' && datum.kind == 'harvest'", "value": "#c98f80"}], "value": "#1c2810"}
 }}
]
},
{
"width": 519, "height": 241,
"title": {"text": "B", "dx": -51, "offset": 9},
"layer": [
{"data": {"name": "lines"}, "transform": [{"filter": "datum.panel == 'B'"}],
 "mark": {"type": "line", "strokeWidth": 4.5, "opacity": 0.85},
 "encoding": {
  "x": {"field": "day", "type": "quantitative", "scale": {"domain": [0, 183], "nice": false, "zero": false},
   "axis": {"title": "date [day and month]", "values": [0, 30, 61, 91, 122, 153, 183], "tickCount": 20, "labelExpr": "datum.value == 0 ? '1.4' : datum.value == 30 ? '1.5' : datum.value == 61 ? '1.6' : datum.value == 91 ? '1.7' : datum.value == 122 ? '1.8' : datum.value == 153 ? '1.9' : ''", "titleX": 500, "titleY": 70}},
  "y": {"field": "value", "type": "quantitative", "scale": {"domain": [15, 55], "nice": false, "zero": false},
   "axis": {"title": "soil moisture [%]", "values": [15, 20, 25, 30, 35, 40, 45, 50, 55], "tickCount": 20, "labelOverlap": false, "titleX": -57, "titleY": 127}},
  "stroke": {"field": "year", "type": "nominal", "scale": {"domain": ["2017", "2018", "2019", "2020"], "range": ["#4fbd87", "#8e9c74", "#a8bf7c", "#d3e4b6"]}, "legend": null}
 }},
{"data": {"name": "thresholds"}, "transform": [{"filter": "datum.panel == 'B'"}],
 "mark": {"type": "rule", "strokeWidth": 7, "opacity": 0.85},
 "encoding": {
  "y": {"field": "value", "type": "quantitative"},
  "color": {"field": "kind", "type": "nominal", "scale": {"domain": ["welting point (indicative)", "field water capacity (indicative)"], "range": ["#ef6b6b", "#5a9fd6"]}, "legend": null}
 }},
{"data": {"name": "markers"}, "transform": [{"filter": "datum.panel == 'B'"}],
 "mark": {"type": "point", "filled": true, "opacity": 1, "strokeWidth": 1.4},
 "encoding": {
  "x": {"field": "day", "type": "quantitative"},
  "y": {"field": "value", "type": "quantitative"},
  "shape": {"field": "kind", "type": "nominal", "scale": {"domain": ["start", "seeding", "harvest"], "range": ["square", "circle", "diamond"]}, "legend": null},
  "size": {"field": "kind", "type": "nominal", "scale": {"domain": ["start", "seeding", "harvest"], "range": [170, 420, 480]}, "legend": null},
  "fill": {"field": "year", "type": "nominal", "scale": {"domain": ["2017", "2018", "2019", "2020"], "range": ["#4cc084", "#3b5a1f", "#6f9a32", "#c4dc9c"]}, "legend": null},
  "stroke": {"condition": [{"test": "datum.kind == 'start'", "value": "#3cb36a"}, {"test": "datum.panel == 'B' && datum.year == '2020' && datum.kind == 'harvest'", "value": "#c98f80"}], "value": "#1c2810"}
 }}
]
}
],
"spacing": 131,
"bounds": "flush",
"center": true,
"resolve": {"scale": {"color": "independent", "stroke": "independent", "fill": "independent", "shape": "independent", "size": "independent"}, "legend": {"color": "independent", "stroke": "independent", "fill": "independent", "shape": "independent", "size": "independent"}}
},
{
"hconcat": [
{
"width": 530, "height": 220,
"title": {"text": "C", "dx": -39, "offset": 0},
"layer": [
{"data": {"name": "lines"}, "transform": [{"filter": "datum.panel == 'C'"}],
 "mark": {"type": "line", "strokeWidth": 4.5, "opacity": 0.85},
 "encoding": {
  "x": {"field": "day", "type": "quantitative", "scale": {"domain": [0, 183], "nice": false, "zero": false},
   "axis": {"title": "date [day and month]", "values": [0, 30, 61, 91, 122, 153, 183], "tickCount": 20, "labelExpr": "datum.value == 0 ? '1.4' : datum.value == 30 ? '1.5' : datum.value == 61 ? '1.6' : datum.value == 91 ? '1.7' : datum.value == 122 ? '1.8' : datum.value == 153 ? '1.9' : ''", "titleX": 522, "titleY": 64}},
  "y": {"field": "value", "type": "quantitative", "scale": {"domain": [19, 54], "nice": false, "zero": false},
   "axis": {"title": "soil moisture [%]", "values": [19, 24, 29, 34, 39, 44, 49, 54], "tickCount": 20, "labelOverlap": false, "titleX": -56, "titleY": 92}},
  "stroke": {"field": "year", "type": "nominal", "scale": {"domain": ["2017", "2018", "2019", "2020"], "range": ["#4fbd87", "#8e9c74", "#a8bf7c", "#d3e4b6"]}, "legend": null}
 }},
{"data": {"name": "thresholds"}, "transform": [{"filter": "datum.panel == 'C'"}],
 "mark": {"type": "rule", "strokeWidth": 7, "opacity": 0.85},
 "encoding": {
  "y": {"field": "value", "type": "quantitative"},
  "color": {"field": "kind", "type": "nominal", "scale": {"domain": ["welting point (indicative)", "field water capacity (indicative)"], "range": ["#ef6b6b", "#5a9fd6"]},
   "legend": {"orient": "none", "legendX": -71, "legendY": 290, "direction": "vertical", "title": null, "symbolType": "stroke", "symbolSize": 3481, "symbolStrokeWidth": 8, "labelFontSize": 25, "labelOffset": -3, "rowPadding": 5, "clipHeight": 25, "labelLimit": 600, "padding": 0}}
 }},
{"data": {"name": "markers"}, "transform": [{"filter": "datum.panel == 'C'"}],
 "mark": {"type": "point", "filled": true, "opacity": 1, "strokeWidth": 1.4},
 "encoding": {
  "x": {"field": "day", "type": "quantitative"},
  "y": {"field": "value", "type": "quantitative"},
  "shape": {"field": "kind", "type": "nominal", "scale": {"domain": ["start", "seeding", "harvest"], "range": ["square", "circle", "diamond"]}, "legend": null},
  "size": {"field": "kind", "type": "nominal", "scale": {"domain": ["start", "seeding", "harvest"], "range": [170, 420, 480]}, "legend": null},
  "fill": {"field": "year", "type": "nominal", "scale": {"domain": ["2017", "2018", "2019", "2020"], "range": ["#4cc084", "#3b5a1f", "#6f9a32", "#c4dc9c"]}, "legend": null},
  "stroke": {"condition": [{"test": "datum.kind == 'start'", "value": "#3cb36a"}, {"test": "datum.panel == 'B' && datum.year == '2020' && datum.kind == 'harvest'", "value": "#c98f80"}], "value": "#1c2810"}
 }}
]
},
{
"width": 523, "height": 216,
"title": {"text": "D", "dx": -53, "offset": 0},
"layer": [
{"data": {"name": "lines"}, "transform": [{"filter": "datum.panel == 'D'"}],
 "mark": {"type": "line", "strokeWidth": 4.5, "opacity": 0.85},
 "encoding": {
  "x": {"field": "day", "type": "quantitative", "scale": {"domain": [0, 183], "nice": false, "zero": false},
   "axis": {"title": "date [day and month]", "values": [0, 30, 61, 91, 122, 153, 183], "tickCount": 20, "labelExpr": "datum.value == 0 ? '1.4' : datum.value == 30 ? '1.5' : datum.value == 61 ? '1.6' : datum.value == 91 ? '1.7' : datum.value == 122 ? '1.8' : datum.value == 153 ? '1.9' : ''", "titleX": 497, "titleY": 72}},
  "y": {"field": "value", "type": "quantitative", "scale": {"domain": [19, 54], "nice": false, "zero": false},
   "axis": {"title": "soil moisture [%]", "values": [19, 24, 29, 34, 39, 44, 49, 54], "tickCount": 20, "labelOverlap": false, "titleX": -51, "titleY": 110}},
  "stroke": {"field": "year", "type": "nominal", "scale": {"domain": ["2017", "2018", "2019", "2020"], "range": ["#4fbd87", "#8e9c74", "#a8bf7c", "#d3e4b6"]},
   "legend": {"orient": "none", "legendX": -45, "legendY": 316, "direction": "horizontal", "title": null, "symbolType": "stroke", "symbolSize": 3364, "symbolStrokeWidth": 6, "labelFontSize": 25, "labelOffset": -2, "columnPadding": 17, "clipHeight": 25, "padding": 0}}
 }},
{"data": {"name": "thresholds"}, "transform": [{"filter": "datum.panel == 'D'"}],
 "mark": {"type": "rule", "strokeWidth": 7, "opacity": 0.85},
 "encoding": {
  "y": {"field": "value", "type": "quantitative"},
  "color": {"field": "kind", "type": "nominal", "scale": {"domain": ["welting point (indicative)", "field water capacity (indicative)"], "range": ["#ef6b6b", "#5a9fd6"]}, "legend": null}
 }},
{"data": {"name": "markers"}, "transform": [{"filter": "datum.panel == 'D'"}],
 "mark": {"type": "point", "filled": true, "opacity": 1, "strokeWidth": 1.4},
 "encoding": {
  "x": {"field": "day", "type": "quantitative"},
  "y": {"field": "value", "type": "quantitative"},
  "shape": {"field": "kind", "type": "nominal", "scale": {"domain": ["start", "seeding", "harvest"], "range": ["square", "circle", "diamond"]}, "legend": null},
  "size": {"field": "kind", "type": "nominal", "scale": {"domain": ["start", "seeding", "harvest"], "range": [170, 420, 480]}, "legend": null},
  "fill": {"field": "year", "type": "nominal", "scale": {"domain": ["2017", "2018", "2019", "2020"], "range": ["#4cc084", "#3b5a1f", "#6f9a32", "#c4dc9c"]}, "legend": null},
  "stroke": {"condition": [{"test": "datum.kind == 'start'", "value": "#3cb36a"}, {"test": "datum.panel == 'B' && datum.year == '2020' && datum.kind == 'harvest'", "value": "#c98f80"}], "value": "#1c2810"}
 }}
]
}
],
"spacing": 118,
"bounds": "flush",
"resolve": {"scale": {"color": "independent", "stroke": "independent", "fill": "independent", "shape": "independent", "size": "independent"}, "legend": {"color": "independent", "stroke": "independent", "fill": "independent", "shape": "independent", "size": "independent"}}
}
],
"config": {
 "font": "Liberation Serif",
 "view": {"stroke": null},
 "axis": {"labelFont": "Liberation Serif", "titleFont": "Liberation Serif", "labelColor": "#595959", "titleColor": "#262626", "titleFontWeight": "normal", "labelFontSize": 23, "titleFontSize": 23},
 "axisX": {"grid": false, "domainColor": "#d9d9d9", "domainWidth": 1.3, "tickColor": "#d9d9d9", "tickWidth": 1.3, "tickSize": 6, "labelPadding": 8, "labelFontSize": 24, "labelFlush": false, "labelOverlap": false, "titleAlign": "right", "titleBaseline": "alphabetic", "titleFontSize": 24},
 "axisY": {"grid": true, "gridColor": "#d9d9d9", "gridWidth": 1.3, "domain": false, "ticks": false, "labelPadding": 21, "labelOverlap": false, "labelFlush": false, "titleAngle": -90, "titleAlign": "center", "titleBaseline": "alphabetic", "titleFontSize": 22},
 "title": {"font": "Liberation Serif", "fontSize": 25, "fontWeight": "normal", "color": "#595959", "anchor": "middle", "frame": "group", "baseline": "alphabetic"},
 "legend": {"labelFont": "Liberation Serif", "labelColor": "#595959", "labelFontSize": 25, "labelLimit": 600, "symbolType": "stroke"}
}
}
